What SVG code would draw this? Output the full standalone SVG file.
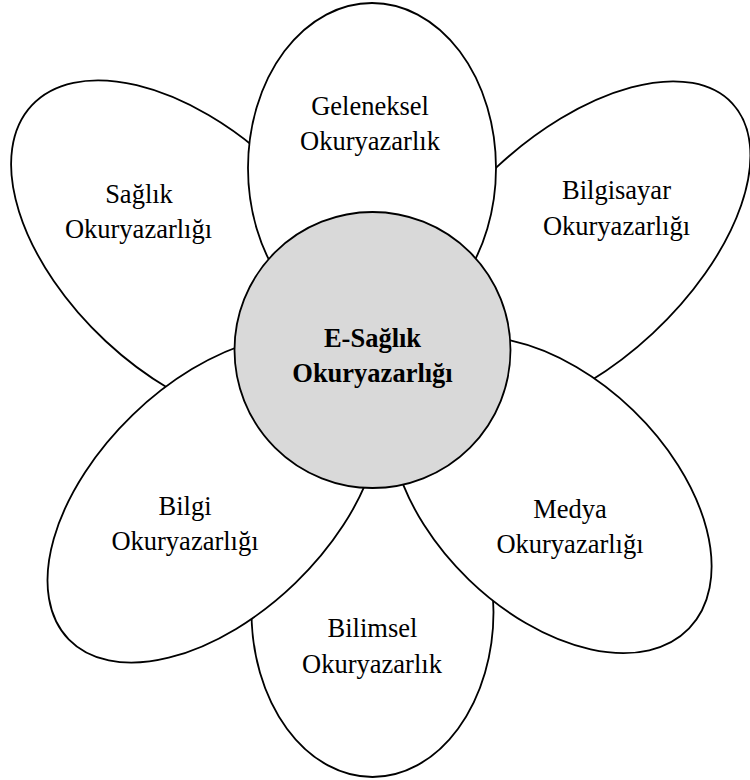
<svg xmlns="http://www.w3.org/2000/svg" width="750" height="780" viewBox="0 0 750 780">
  <style>
    .petal { fill: #ffffff; stroke: #000000; stroke-width: 1.8; }
    .core { fill: #d9d9d9; stroke: #000000; stroke-width: 1.8; }
    .lbl { font-family: "Liberation Serif", "Times New Roman", serif; font-size: 26.5px; fill: #000000; text-anchor: middle; }
    .lbl-b { font-family: "Liberation Serif", "Times New Roman", serif; font-size: 26.5px; font-weight: bold; fill: #000000; text-anchor: middle; }
  </style>
  <rect x="0" y="0" width="750" height="780" fill="#ffffff"/>

  <!-- petals, back to front -->
  <g id="saglik">
    <ellipse class="petal" cx="0" cy="0" rx="215" ry="122" transform="translate(189 252) rotate(43)"/>
    <text class="lbl" x="139" y="203">Sağlık</text>
    <text class="lbl" x="138.5" y="238">Okuryazarlığı</text>
  </g>

  <g id="bilgisayar">
    <ellipse class="petal" cx="0" cy="0" rx="215" ry="114" transform="translate(575 250) rotate(-43)"/>
    <text class="lbl" x="616.5" y="199">Bilgisayar</text>
    <text class="lbl" x="616.5" y="235">Okuryazarlığı</text>
  </g>

  <g id="bilimsel">
    <ellipse class="petal" cx="372.5" cy="612" rx="121" ry="165"/>
    <text class="lbl" x="372.5" y="637">Bilimsel</text>
    <text class="lbl" x="372" y="673">Okuryazarlık</text>
  </g>

  <g id="geleneksel">
    <ellipse class="petal" cx="372" cy="168" rx="124" ry="165"/>
    <text class="lbl" x="370" y="115">Geleneksel</text>
    <text class="lbl" x="370" y="150">Okuryazarlık</text>
  </g>

  <g id="bilgi">
    <ellipse class="petal" cx="0" cy="0" rx="202" ry="117" transform="translate(214 499) rotate(-44)"/>
    <text class="lbl" x="185" y="515">Bilgi</text>
    <text class="lbl" x="185" y="550">Okuryazarlığı</text>
  </g>

  <g id="medya">
    <ellipse class="petal" cx="0" cy="0" rx="192" ry="118" transform="translate(551 495) rotate(44)"/>
    <text class="lbl" x="570" y="518">Medya</text>
    <text class="lbl" x="570" y="553">Okuryazarlığı</text>
  </g>

  <!-- centre disc -->
  <g id="e-saglik">
    <circle class="core" cx="372.5" cy="350" r="138"/>
    <text class="lbl-b" x="372.5" y="347">E-Sağlık</text>
    <text class="lbl-b" x="372.5" y="382">Okuryazarlığı</text>
  </g>

  <!-- no connectors in this figure -->
  <g id="connectors"/>
</svg>
